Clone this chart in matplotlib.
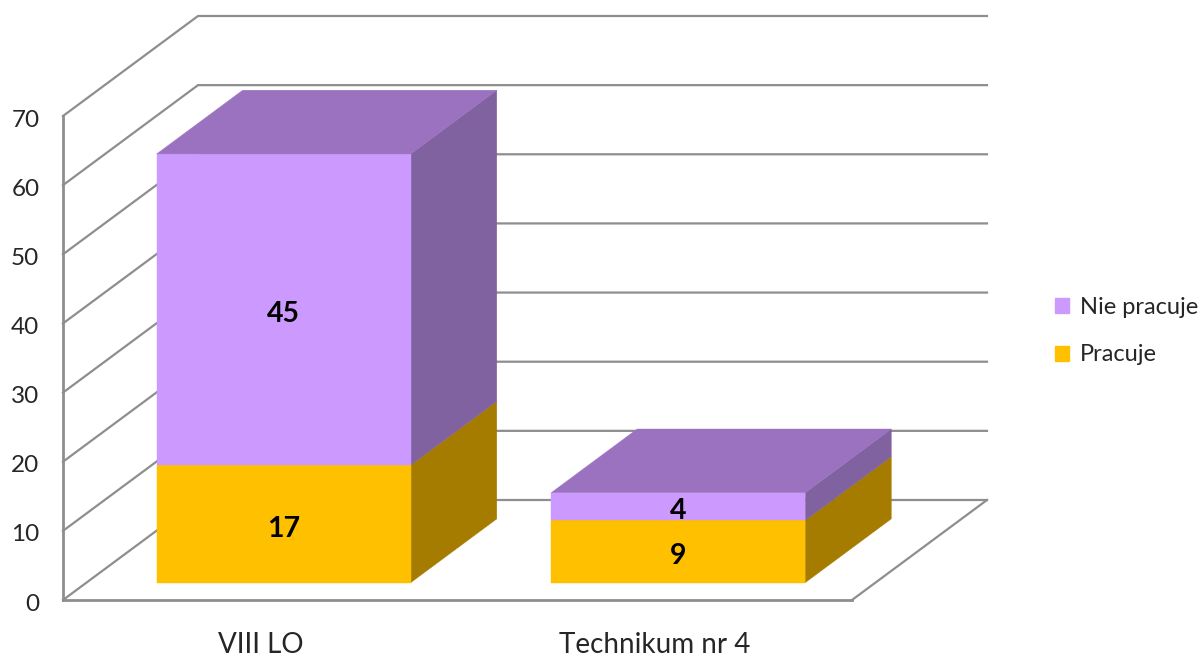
"""Stacked 3D-look column chart: Pracuje / Nie pracuje by school."""
import matplotlib
matplotlib.use("Agg")
import matplotlib.pyplot as plt
import matplotlib.patches as mpatches
from matplotlib.transforms import ScaledTranslation
import numpy as np

plt.rcParams["font.family"] = ["Lato", "DejaVu Sans"]

# Data
schools = ["VIII LO", "Technikum nr 4"]
pracuje = [17, 9]
nie_pracuje = [45, 4]
y_ticks = [0, 10, 20, 30, 40, 50, 60, 70]

# Colours
GRID = "#8E8E8E"
TEXT = "#262626"
PURPLE, PURPLE_TOP, PURPLE_SIDE = "#CC99FF", "#9B72BF", "#8062A0"
ORANGE, ORANGE_SIDE = "#FFC000", "#A67C00"

# Oblique projection: depth 0 is the front of the floor, depth 1 the back wall
W, H = 1201, 658
DEPTH_X = 135 / 394.5     # category units
DEPTH_Y = 100 / 6.914     # value units
BAR_W = 0.644
D_FRONT, D_BACK = 0.174, 0.811


def proj(x, v, d):
    return (x + d * DEPTH_X, v + d * DEPTH_Y)


def quad(ax, pts, color, z):
    ax.add_patch(mpatches.Polygon(pts, closed=True, facecolor=color, edgecolor=color,
                                  lw=0.3, zorder=z, clip_on=False))


def box(ax, xc, v0, v1, front, side, top=None, z=3):
    xl, xr = xc - BAR_W / 2, xc + BAR_W / 2
    quad(ax, [proj(xr, v0, D_FRONT), proj(xr, v0, D_BACK),
              proj(xr, v1, D_BACK), proj(xr, v1, D_FRONT)], side, z)
    quad(ax, [proj(xl, v0, D_FRONT), proj(xr, v0, D_FRONT),
              proj(xr, v1, D_FRONT), proj(xl, v1, D_FRONT)], front, z + 0.1)
    if top:
        quad(ax, [proj(xl, v1, D_FRONT), proj(xr, v1, D_FRONT),
                  proj(xr, v1, D_BACK), proj(xl, v1, D_BACK)], top, z + 0.2)


fig = plt.figure(figsize=(W / 100, H / 100), dpi=100)
ax = fig.add_axes([63 / W, (H - 600) / H, 789 / W, 484 / H])
ax.set_xlim(0, 2)
ax.set_ylim(0, 70)

# Walls and floor
for v in y_ticks:
    ax.plot(*zip(proj(0, v, 0), proj(0, v, 1), proj(2, v, 1)),
            color=GRID, lw=1.6, zorder=1, clip_on=False, solid_joinstyle="miter")
ax.plot(*zip(proj(2, 0, 0), proj(2, 0, 1)), color=GRID, lw=1.6, zorder=1, clip_on=False)

# Stacked bars
x_pos = np.array([0.5, 1.5])
for i, xc in enumerate(x_pos):
    box(ax, xc, 0, pracuje[i], ORANGE, ORANGE_SIDE, z=3)
    box(ax, xc, pracuje[i], pracuje[i] + nie_pracuje[i], PURPLE, PURPLE_SIDE, PURPLE_TOP, z=3)
    lx, ly = proj(xc, pracuje[i] / 2, D_FRONT)
    ax.annotate(str(pracuje[i]), (lx, ly), xytext=(0, -3.5), textcoords="offset points",
                ha="center", va="center", fontsize=20.5, fontweight="bold",
                color="black", zorder=6)
    lx, ly = proj(xc, pracuje[i] + nie_pracuje[i] / 2, D_FRONT)
    ax.annotate(str(nie_pracuje[i]), (lx, ly), xytext=(0, -3.5), textcoords="offset points",
                ha="center", va="center", fontsize=20.5, fontweight="bold",
                color="black", zorder=6)

# Axes
for s in ["top", "right"]:
    ax.spines[s].set_visible(False)
for s in ["left", "bottom"]:
    ax.spines[s].set_color(GRID)
    ax.spines[s].set_linewidth(2)
ax.patch.set_alpha(0)
ax.set_yticks(y_ticks)
ax.set_xticks(x_pos)
ax.set_xticklabels(schools)
ax.tick_params(axis="y", length=0, pad=17, labelsize=17.5, labelcolor=TEXT)
ax.tick_params(axis="x", length=0, pad=23, labelsize=20, labelcolor=TEXT)

# y tick labels sit a touch below their gridlines
shift = ScaledTranslation(0, -1.5 / 72, fig.dpi_scale_trans)
for label in ax.get_yticklabels():
    label.set_transform(label.get_transform() + shift)

handles = [mpatches.Patch(color=PURPLE, label="Nie pracuje"),
           mpatches.Patch(color=ORANGE, label="Pracuje")]
fig.legend(handles=handles, loc="center left", bbox_to_anchor=(1055 / W, 1 - 331 / H),
           frameon=False, fontsize=17, handlelength=0.6, handleheight=0.6,
           handletextpad=0.45, labelspacing=1.14, borderpad=0, borderaxespad=0, labelcolor=TEXT)

fig.savefig("out.png", dpi=100)
